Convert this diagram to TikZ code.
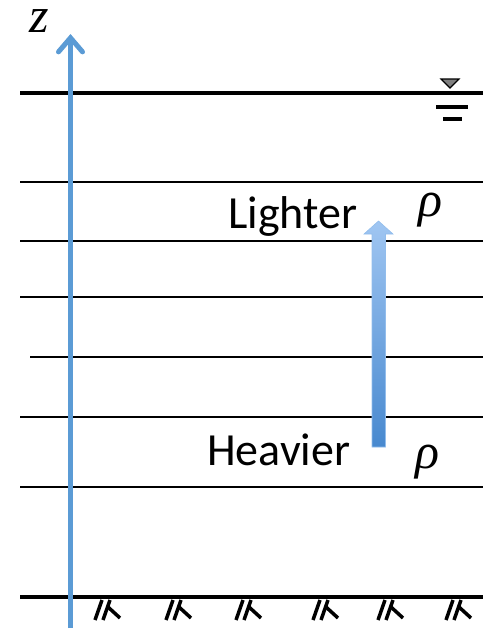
\documentclass[tikz,border=0pt]{standalone}
\usepackage{fontspec}
\newfontfamily\labelfont{Carlito}
\newfontfamily\symfont{Liberation Serif}
\usetikzlibrary{arrows.meta}
\definecolor{axisblue}{RGB}{91,155,213}
\definecolor{arrowtop}{RGB}{160,198,242}
\definecolor{arrowbot}{RGB}{72,137,207}
\tikzset{layer/.style={line width=2.2pt},ground/.style={line width=4.5pt},
word/.style={font=\labelfont\fontsize{46}{46}\selectfont,inner sep=0pt},
sym/.style={font=\symfont\itshape\fontsize{50}{50}\selectfont,inner sep=0pt}}

\begin{document}
\begin{tikzpicture}[x=1pt,y=-1pt]
\useasboundingbox(0,0)rectangle(483,630);
% layers
\foreach\y in{182,241,297,417,487}{\draw[layer](20,\y)--(483,\y);}
\draw[layer](30,357)--(483,357);
% free surface and bed
\draw[ground](20,93)--(483,93);
\draw[ground](20,597)--(483,597);
\draw[line width=1.2pt,fill=gray](441,79)--(459,79)--(450,88)--cycle;
\draw[line width=4.5pt](436,107)--(468,107);\draw[line width=4.5pt](443,119)--(462,119);
\foreach\x in{92,163,233,310,375,443}{
\draw[line width=3.5pt](\x+3,620)--(\x+10,600);
\draw[line width=3.5pt](\x+11,620)--(\x+18,600);
\draw[line width=3.5pt](\x+16,607)--(\x+28,618);}
% z axis
\coordinate(zbot)at(70.5,628);\coordinate(ztop)at(70.5,34);
\draw[axisblue,line width=5pt,-{Straight Barb[length=14pt,width=24pt,line cap=round]}](zbot)--(ztop);
\node[sym,anchor=base](zlab)at(39,32){z};
% density labels
\node[word,anchor=base west](light)at(228,228){Lighter};
\node[word,anchor=base west](heavy)at(207,465){Heavier};
\node[sym](rhotop)at(430,210){ρ};
\node[sym](rhobot)at(427,462){ρ};
\shade[top color=arrowtop,bottom color=arrowbot,draw=arrowtop!80!axisblue,line width=0.6pt]
(372,447)--(372,234)--(364,234)--(378.5,221)--(393,234)--(385.5,234)--(385.5,447)--cycle;
\end{tikzpicture}
\end{document}
